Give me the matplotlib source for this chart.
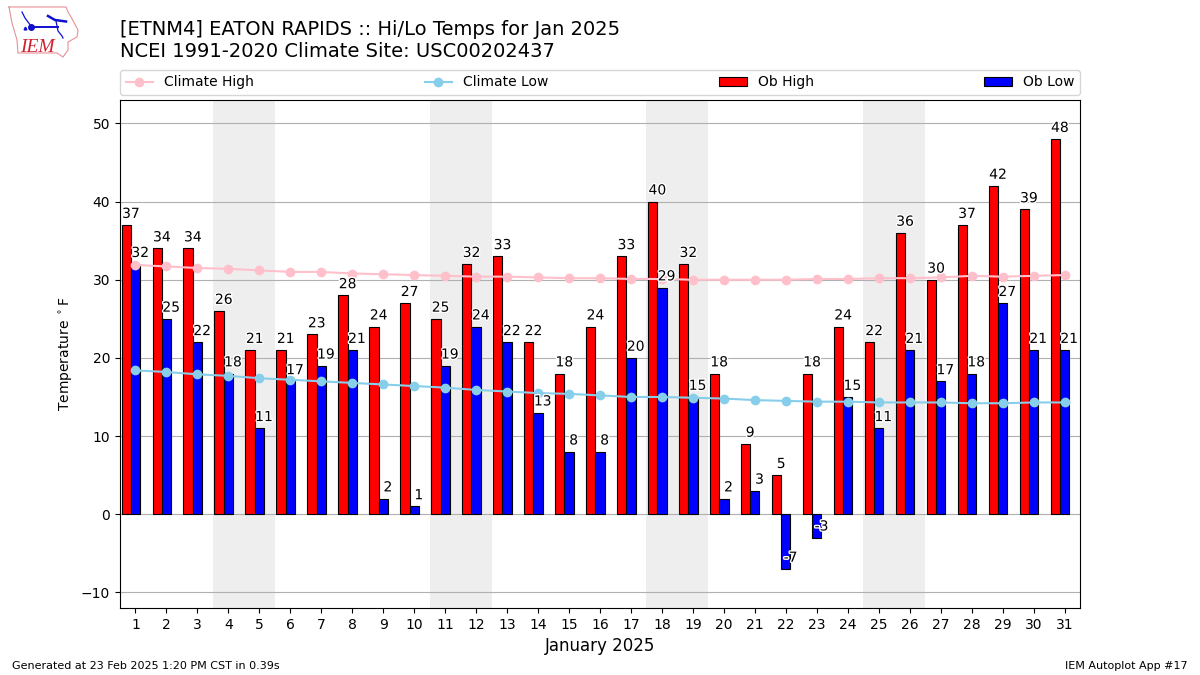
import matplotlib
matplotlib.use("Agg")
import matplotlib.pyplot as plt
import matplotlib.patheffects as pe
from matplotlib.lines import Line2D
import numpy as np

days = list(range(1, 32))
ob_high = [37, 34, 34, 26, 21, 21, 23, 28, 24, 27, 25, 32, 33, 22, 18, 24,
           33, 40, 32, 18, 9, 5, 18, 24, 22, 36, 30, 37, 42, 39, 48]
ob_low = [32, 25, 22, 18, 11, 17, 19, 21, 2, 1, 19, 24, 22, 13, 8, 8,
          20, 29, 15, 2, 3, -7, -3, 15, 11, 21, 17, 18, 27, 21, 21]
climate_high = [31.9, 31.7, 31.5, 31.4, 31.2, 31.0, 31.0, 30.8, 30.7, 30.6, 30.5,
                30.4, 30.4, 30.3, 30.2, 30.2, 30.1, 30.1, 30.0, 30.0, 30.0, 30.0,
                30.1, 30.1, 30.2, 30.2, 30.3, 30.5, 30.4, 30.5, 30.6]
climate_low = [18.4, 18.2, 17.9, 17.7, 17.4, 17.2, 17.0, 16.8, 16.6, 16.4, 16.2,
               15.9, 15.7, 15.5, 15.4, 15.2, 15.0, 15.0, 14.9, 14.8, 14.6, 14.5,
               14.4, 14.4, 14.3, 14.3, 14.3, 14.2, 14.2, 14.3, 14.3]
weekend_starts = [4, 11, 18, 25]

W, H = 1200, 675


def draw_logo(fig):
    """Small hand drawn version of the IEM logo, in pixel coordinates."""
    logo = fig.add_axes([0, 0, 1, 1], facecolor="none", zorder=5)
    logo.set_xlim(0, W)
    logo.set_ylim(H, 0)
    logo.axis("off")
    outline_x = [9, 66, 68, 71, 78, 77, 68, 68, 63, 57, 18, 17, 12, 9]
    outline_y = [7, 7, 12, 17, 30, 37, 42, 50, 57, 53, 53, 40, 23, 7]
    logo.plot(outline_x, outline_y, color="#e89098", lw=0.8)
    logo.plot([31, 58], [27, 27], color="#1010d0", lw=1.4)
    logo.plot([48, 55, 66], [16, 20, 21.5], color="#1010d0", lw=1.8)
    logo.plot([22, 25, 31], [12, 18, 26], color="#1010d0", lw=0.9)
    logo.plot([56, 58, 62, 63], [21, 31, 36, 38], color="#1010d0", lw=0.9)
    logo.plot([31], [27], "o", color="#1010d0", ms=4)
    logo.plot([25], [28], "^", color="#1010d0", ms=2)
    logo.text(20, 52, "IEM", color="#d02030", fontsize=14, style="italic",
              family="Liberation Serif", va="baseline")


def main():
    fig = plt.figure(figsize=(12, 6.75), dpi=100)
    ax = fig.add_axes([120 / W, 1 - 608 / H, 960 / W, 508 / H])

    x = np.array(days)

    for start in weekend_starts:
        ax.axvspan(start - 0.5, start + 1.5, color="#eeeeee", zorder=0, lw=0)

    ax.grid(axis="y", color="#b0b0b0", lw=0.8, zorder=1)
    ax.set_axisbelow(True)

    ax.bar(x - 0.3, ob_high, width=0.3, color="red", edgecolor="k", lw=0.8, zorder=2)
    ax.bar(x, ob_low, width=0.3, color="blue", edgecolor="k", lw=0.8, zorder=2)

    ax.plot(x, climate_high, color="pink", marker="o", ms=6, lw=1.5, zorder=3)
    ax.plot(x, climate_low, color="skyblue", marker="o", ms=6, lw=1.5, zorder=3)

    # labels sit just above the bars, with a white halo
    halo = [pe.withStroke(linewidth=2, foreground="white")]
    for day, high, low in zip(days, ob_high, ob_low):
        ax.annotate(str(high), (day - 0.15, high), xytext=(0, 3),
                    textcoords="offset points", ha="center", va="bottom",
                    fontsize=10, path_effects=halo, zorder=4)
        ax.annotate(str(low), (day + 0.15, low), xytext=(0, 3),
                    textcoords="offset points", ha="center", va="bottom",
                    fontsize=10, path_effects=halo, zorder=4)

    ax.set_xlim(0.5, 31.5)
    ax.set_ylim(-12, 53)
    ax.set_xticks(days)
    ax.set_yticks([-10, 0, 10, 20, 30, 40, 50])
    ax.set_xlabel("January 2025", fontsize=12)
    ax.set_ylabel(r"Temperature $^\circ$F", fontsize=10)

    handles = [
        Line2D([], [], color="pink", marker="o", ms=6, lw=1.5),
        Line2D([], [], color="skyblue", marker="o", ms=6, lw=1.5),
        plt.Rectangle((0, 0), 1, 1, fc="red", ec="k", lw=0.8),
        plt.Rectangle((0, 0), 1, 1, fc="blue", ec="k", lw=0.8),
    ]
    ax.legend(handles, ["Climate High", "Climate Low", "Ob High", "Ob Low"], ncol=4,
              mode="expand", loc="lower left", bbox_to_anchor=(0, 1.01, 1, 0.05),
              borderaxespad=0, fontsize=10)

    fig.text(120 / W, 1 - 61 / H,
             "[ETNM4] EATON RAPIDS :: Hi/Lo Temps for Jan 2025\n"
             "NCEI 1991-2020 Climate Site: USC00202437",
             fontsize=14, ha="left", va="bottom")
    fig.text(12 / W, 1 - 671 / H, "Generated at 23 Feb 2025 1:20 PM CST in 0.39s",
             fontsize=8, ha="left", va="bottom")
    fig.text(1188 / W, 1 - 671 / H, "IEM Autoplot App #17",
             fontsize=8, ha="right", va="bottom")

    draw_logo(fig)
    fig.savefig("out.png", dpi=100)


if __name__ == "__main__":
    main()
